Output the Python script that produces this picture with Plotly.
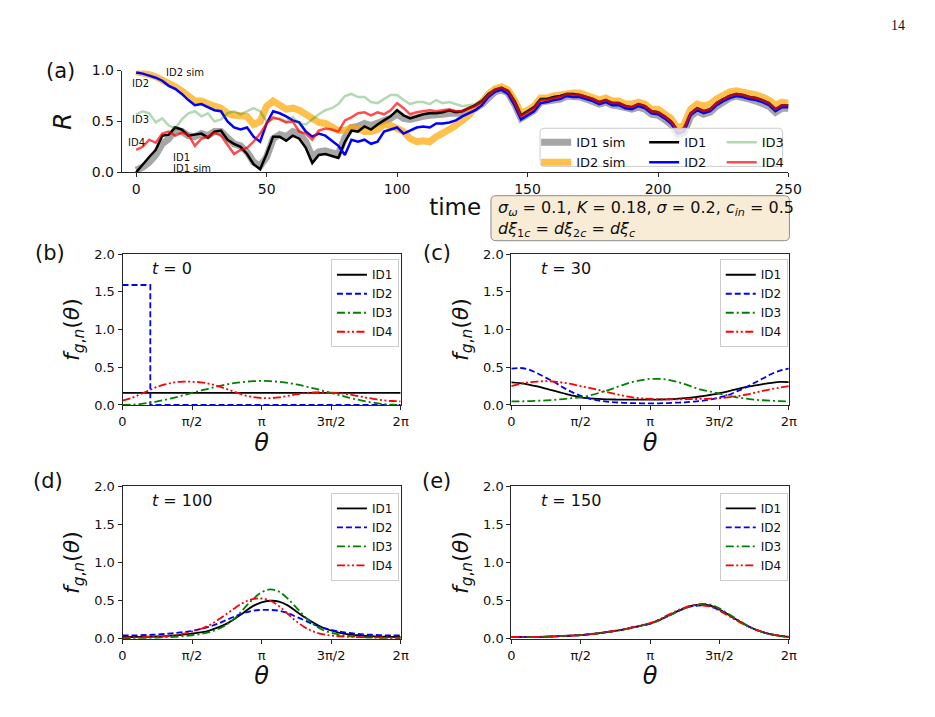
import math
import plotly.graph_objects as go

W, H = 935, 717

# ---------------- data: panel (a) ----------------
time = [i * 2.5 for i in range(101)]

R_ID1_sim = [0.02, 0.05, 0.10, 0.17, 0.28, 0.33, 0.42, 0.40, 0.36, 0.35,
             0.38, 0.36, 0.40, 0.40, 0.34, 0.28, 0.26, 0.20, 0.10, 0.06,
             0.15, 0.33, 0.37, 0.35, 0.40, 0.38, 0.30, 0.15, 0.20, 0.21,
             0.19, 0.18, 0.34, 0.44, 0.45, 0.48, 0.46, 0.48, 0.50, 0.53,
             0.57, 0.53, 0.52, 0.54, 0.55, 0.56, 0.56, 0.57, 0.58, 0.58,
             0.58, 0.61, 0.63, 0.67, 0.74, 0.79, 0.81, 0.78, 0.67, 0.53,
             0.57, 0.61, 0.69, 0.70, 0.71, 0.72, 0.75, 0.75, 0.74, 0.72,
             0.70, 0.67, 0.69, 0.66, 0.65, 0.63, 0.62, 0.64, 0.62, 0.57,
             0.56, 0.52, 0.47, 0.37, 0.39, 0.55, 0.60, 0.57, 0.59, 0.65,
             0.70, 0.73, 0.75, 0.74, 0.72, 0.70, 0.68, 0.65, 0.59, 0.63,
             0.63]
R_ID2_sim = [0.99, 0.98, 0.96, 0.94, 0.91, 0.87, 0.84, 0.80, 0.74, 0.70,
             0.70, 0.67, 0.65, 0.63, 0.58, 0.56, 0.55, 0.55, 0.47, 0.50,
             0.65, 0.70, 0.66, 0.62, 0.63, 0.61, 0.57, 0.52, 0.49, 0.48,
             0.45, 0.41, 0.41, 0.44, 0.43, 0.40, 0.40, 0.42, 0.47, 0.46,
             0.43, 0.40, 0.33, 0.30, 0.31, 0.30, 0.35, 0.38, 0.42, 0.46,
             0.50, 0.56, 0.64, 0.69, 0.77, 0.82, 0.84, 0.81, 0.71, 0.58,
             0.61, 0.65, 0.73, 0.73, 0.75, 0.76, 0.78, 0.78, 0.78, 0.76,
             0.74, 0.71, 0.73, 0.70, 0.70, 0.67, 0.67, 0.69, 0.67, 0.62,
             0.62, 0.57, 0.53, 0.43, 0.47, 0.62, 0.67, 0.65, 0.67, 0.72,
             0.76, 0.79, 0.80, 0.79, 0.78, 0.76, 0.74, 0.71, 0.66, 0.69,
             0.68]
R_ID1 = [0.00, 0.08, 0.15, 0.22, 0.36, 0.37, 0.44, 0.42, 0.36, 0.37,
         0.38, 0.34, 0.40, 0.41, 0.32, 0.28, 0.25, 0.18, 0.08, 0.03,
         0.18, 0.35, 0.35, 0.31, 0.36, 0.33, 0.24, 0.09, 0.17, 0.18,
         0.16, 0.14, 0.30, 0.41, 0.40, 0.45, 0.42, 0.47, 0.51, 0.55,
         0.61, 0.56, 0.53, 0.55, 0.57, 0.58, 0.58, 0.59, 0.61, 0.59,
         0.60, 0.63, 0.66, 0.70, 0.77, 0.81, 0.83, 0.80, 0.70, 0.56,
         0.60, 0.64, 0.72, 0.72, 0.74, 0.75, 0.77, 0.77, 0.76, 0.74,
         0.72, 0.69, 0.71, 0.68, 0.68, 0.65, 0.64, 0.67, 0.65, 0.60,
         0.59, 0.55, 0.50, 0.41, 0.43, 0.58, 0.63, 0.60, 0.62, 0.68,
         0.72, 0.75, 0.77, 0.76, 0.74, 0.73, 0.71, 0.68, 0.62, 0.66,
         0.66]
R_ID2 = [0.98, 0.97, 0.95, 0.93, 0.90, 0.85, 0.82, 0.77, 0.71, 0.66,
         0.67, 0.64, 0.61, 0.60, 0.50, 0.44, 0.42, 0.44, 0.35, 0.30,
         0.48, 0.60, 0.58, 0.55, 0.51, 0.49, 0.40, 0.35, 0.38, 0.36,
         0.31, 0.26, 0.17, 0.32, 0.30, 0.32, 0.28, 0.30, 0.40, 0.42,
         0.44, 0.38, 0.41, 0.44, 0.45, 0.44, 0.48, 0.48, 0.49, 0.51,
         0.55, 0.58, 0.61, 0.66, 0.74, 0.79, 0.81, 0.77, 0.66, 0.52,
         0.56, 0.60, 0.68, 0.69, 0.71, 0.72, 0.75, 0.74, 0.74, 0.72,
         0.70, 0.67, 0.69, 0.66, 0.66, 0.63, 0.62, 0.65, 0.63, 0.58,
         0.57, 0.53, 0.48, 0.38, 0.40, 0.56, 0.61, 0.58, 0.60, 0.66,
         0.70, 0.73, 0.75, 0.74, 0.72, 0.71, 0.69, 0.66, 0.60, 0.64,
         0.64]
R_ID3 = [0.57, 0.60, 0.58, 0.49, 0.53, 0.46, 0.43, 0.52, 0.58, 0.60,
         0.55, 0.58, 0.50, 0.52, 0.58, 0.60, 0.57, 0.60, 0.63, 0.60,
         0.50, 0.52, 0.53, 0.50, 0.54, 0.48, 0.47, 0.52, 0.57, 0.61,
         0.63, 0.67, 0.75, 0.77, 0.74, 0.74, 0.69, 0.68, 0.72, 0.76,
         0.76, 0.71, 0.67, 0.69, 0.69, 0.67, 0.71, 0.68, 0.69, 0.67,
         0.65, 0.66, 0.67, 0.71, 0.77, 0.82, 0.83, 0.80, 0.70, 0.56,
         0.60, 0.64, 0.72, 0.72, 0.73, 0.74, 0.77, 0.77, 0.76, 0.74,
         0.72, 0.69, 0.71, 0.68, 0.68, 0.65, 0.64, 0.67, 0.65, 0.60,
         0.59, 0.55, 0.50, 0.41, 0.43, 0.58, 0.63, 0.60, 0.62, 0.68,
         0.72, 0.75, 0.77, 0.76, 0.74, 0.73, 0.71, 0.68, 0.62, 0.66,
         0.66]
R_ID4 = [0.22, 0.25, 0.32, 0.29, 0.38, 0.40, 0.36, 0.39, 0.37, 0.26,
         0.33, 0.35, 0.39, 0.36, 0.27, 0.18, 0.22, 0.24, 0.30, 0.38,
         0.48, 0.54, 0.52, 0.49, 0.50, 0.40, 0.38, 0.32, 0.41, 0.43,
         0.42, 0.40, 0.51, 0.54, 0.58, 0.59, 0.56, 0.59, 0.57, 0.61,
         0.68, 0.63, 0.57, 0.59, 0.60, 0.61, 0.60, 0.61, 0.62, 0.60,
         0.60, 0.63, 0.65, 0.69, 0.76, 0.81, 0.83, 0.80, 0.69, 0.55,
         0.59, 0.63, 0.71, 0.71, 0.73, 0.74, 0.77, 0.76, 0.76, 0.74,
         0.72, 0.69, 0.71, 0.68, 0.68, 0.65, 0.64, 0.67, 0.65, 0.60,
         0.59, 0.55, 0.50, 0.41, 0.43, 0.58, 0.63, 0.60, 0.62, 0.68,
         0.72, 0.75, 0.77, 0.76, 0.74, 0.73, 0.71, 0.68, 0.62, 0.66,
         0.66]

# ---------------- data: panels (b)-(e) ----------------
theta = [k * math.pi / 16 for k in range(33)]
theta_step = [0.0, 0.2 * math.pi, 0.2 * math.pi, 2 * math.pi]

# (b) t = 0
fb_ID1 = [0.159] * 33
fb_ID2 = [1.59, 1.59, 0.0, 0.0]
fb_ID3 = [0.000, 0.003, 0.012, 0.027, 0.047, 0.071, 0.098, 0.128, 0.159, 0.190,
          0.220, 0.247, 0.272, 0.292, 0.306, 0.315, 0.318, 0.315, 0.306, 0.292,
          0.272, 0.247, 0.220, 0.190, 0.159, 0.128, 0.098, 0.071, 0.047, 0.027,
          0.012, 0.003, 0.000]
fb_ID4 = [0.056, 0.090, 0.140, 0.190, 0.240, 0.275, 0.300, 0.310, 0.307, 0.300,
          0.280, 0.250, 0.210, 0.170, 0.130, 0.105, 0.092, 0.090, 0.100, 0.120,
          0.140, 0.158, 0.166, 0.168, 0.164, 0.155, 0.140, 0.120, 0.098, 0.078,
          0.062, 0.052, 0.048]
# (c) t = 30
fc_ID1 = [0.300, 0.290, 0.270, 0.245, 0.215, 0.185, 0.155, 0.125, 0.100, 0.088,
          0.080, 0.075, 0.072, 0.070, 0.070, 0.070, 0.070, 0.072, 0.075, 0.080,
          0.090, 0.100, 0.115, 0.135, 0.155, 0.180, 0.210, 0.235, 0.255, 0.275,
          0.292, 0.305, 0.302]
fc_ID2 = [0.480, 0.490, 0.470, 0.420, 0.360, 0.300, 0.230, 0.170, 0.120, 0.085,
          0.060, 0.045, 0.035, 0.028, 0.024, 0.022, 0.022, 0.022, 0.025, 0.030,
          0.035, 0.045, 0.055, 0.075, 0.100, 0.130, 0.180, 0.230, 0.290, 0.350,
          0.410, 0.455, 0.480]
fc_ID3 = [0.048, 0.048, 0.050, 0.055, 0.060, 0.068, 0.078, 0.090, 0.100, 0.125,
          0.155, 0.190, 0.230, 0.270, 0.305, 0.330, 0.345, 0.345, 0.335, 0.310,
          0.275, 0.235, 0.200, 0.175, 0.150, 0.125, 0.100, 0.085, 0.070, 0.062,
          0.055, 0.050, 0.048]
fc_ID4 = [0.250, 0.280, 0.300, 0.310, 0.315, 0.310, 0.295, 0.275, 0.250, 0.225,
          0.200, 0.170, 0.145, 0.120, 0.100, 0.088, 0.080, 0.076, 0.075, 0.075,
          0.076, 0.078, 0.080, 0.083, 0.088, 0.100, 0.115, 0.135, 0.160, 0.185,
          0.210, 0.230, 0.250]
# (d) t = 100
fd_ID1 = [0.025, 0.025, 0.026, 0.028, 0.032, 0.037, 0.045, 0.055, 0.068, 0.085,
          0.110, 0.150, 0.200, 0.270, 0.350, 0.430, 0.480, 0.500, 0.490, 0.440,
          0.360, 0.280, 0.210, 0.150, 0.110, 0.080, 0.060, 0.048, 0.038, 0.032,
          0.028, 0.026, 0.025]
fd_ID2 = [0.045, 0.045, 0.048, 0.052, 0.058, 0.066, 0.077, 0.090, 0.105, 0.130,
          0.160, 0.200, 0.250, 0.300, 0.340, 0.370, 0.380, 0.380, 0.370, 0.340,
          0.290, 0.240, 0.190, 0.150, 0.120, 0.095, 0.078, 0.066, 0.058, 0.052,
          0.048, 0.046, 0.045]
fd_ID3 = [0.012, 0.012, 0.013, 0.015, 0.018, 0.022, 0.028, 0.036, 0.048, 0.065,
          0.090, 0.130, 0.190, 0.280, 0.400, 0.520, 0.610, 0.650, 0.620, 0.530,
          0.410, 0.290, 0.190, 0.120, 0.080, 0.055, 0.038, 0.028, 0.021, 0.017,
          0.014, 0.013, 0.012]
fd_ID4 = [0.018, 0.019, 0.021, 0.025, 0.030, 0.038, 0.050, 0.068, 0.095, 0.130,
          0.180, 0.250, 0.330, 0.410, 0.480, 0.520, 0.530, 0.500, 0.430, 0.330,
          0.230, 0.150, 0.095, 0.062, 0.045, 0.035, 0.028, 0.024, 0.021, 0.020,
          0.019, 0.018, 0.018]
# (e) t = 150
fe_ID1 = [0.027, 0.025, 0.024, 0.025, 0.028, 0.032, 0.038, 0.044, 0.050, 0.060,
          0.072, 0.088, 0.105, 0.125, 0.150, 0.175, 0.200, 0.245, 0.300, 0.355,
          0.405, 0.440, 0.450, 0.435, 0.385, 0.320, 0.250, 0.185, 0.130, 0.090,
          0.060, 0.040, 0.027]
fe_ID2 = [0.027, 0.025, 0.024, 0.025, 0.028, 0.032, 0.038, 0.044, 0.050, 0.060,
          0.072, 0.088, 0.105, 0.125, 0.150, 0.175, 0.200, 0.243, 0.295, 0.350,
          0.400, 0.430, 0.440, 0.425, 0.380, 0.318, 0.250, 0.185, 0.130, 0.090,
          0.060, 0.040, 0.027]
fe_ID3 = [0.027, 0.025, 0.024, 0.025, 0.028, 0.032, 0.038, 0.044, 0.050, 0.060,
          0.072, 0.088, 0.105, 0.125, 0.148, 0.172, 0.198, 0.240, 0.295, 0.350,
          0.400, 0.440, 0.460, 0.450, 0.400, 0.330, 0.260, 0.190, 0.132, 0.090,
          0.060, 0.040, 0.027]
fe_ID4 = [0.027, 0.025, 0.024, 0.025, 0.028, 0.032, 0.038, 0.044, 0.051, 0.062,
          0.074, 0.090, 0.108, 0.128, 0.153, 0.180, 0.207, 0.250, 0.310, 0.365,
          0.410, 0.440, 0.440, 0.420, 0.370, 0.305, 0.240, 0.180, 0.128, 0.088,
          0.059, 0.040, 0.027]

# ---------------- helpers ----------------
def PX(x):
    return x / W

def PY(y):
    return 1 - y / H

def rounded_rect(x0, y0, x1, y1, r):
    # pixel coordinates -> paper path
    pts = []
    pts.append(f"M {PX(x0 + r)} {PY(y0)}")
    pts.append(f"L {PX(x1 - r)} {PY(y0)}")
    pts.append(f"Q {PX(x1)} {PY(y0)} {PX(x1)} {PY(y0 + r)}")
    pts.append(f"L {PX(x1)} {PY(y1 - r)}")
    pts.append(f"Q {PX(x1)} {PY(y1)} {PX(x1 - r)} {PY(y1)}")
    pts.append(f"L {PX(x0 + r)} {PY(y1)}")
    pts.append(f"Q {PX(x0)} {PY(y1)} {PX(x0)} {PY(y1 - r)}")
    pts.append(f"L {PX(x0)} {PY(y0 + r)}")
    pts.append(f"Q {PX(x0)} {PY(y0)} {PX(x0 + r)} {PY(y0)}")
    pts.append("Z")
    return " ".join(pts)

FONT = "DejaVu Sans"
AX = "#262626"

fig = go.Figure()

# ---------------- panel (a) traces ----------------
a_series = [
    ("ID1 sim", R_ID1_sim, "rgba(128,128,128,0.7)", 7, "legend"),
    ("ID2 sim", R_ID2_sim, "rgba(255,165,0,0.7)", 7, "legend"),
    ("ID1", R_ID1, "black", 2.5, "legend2"),
    ("ID2", R_ID2, "blue", 2.5, "legend2"),
    ("ID3", R_ID3, "rgba(0,128,0,0.3)", 2.5, "legend3"),
    ("ID4", R_ID4, "rgba(255,0,0,0.7)", 2.5, "legend3"),
]
for name, vals, col, wd, lg in a_series:
    fig.add_trace(go.Scatter(x=time, y=vals, mode="lines", name=name,
                             line=dict(color=col, width=wd),
                             xaxis="x", yaxis="y", legend=lg))

# ---------------- panels (b)-(e) traces ----------------
styles = {
    "ID1": dict(color="black", width=1.8, dash="solid"),
    "ID2": dict(color="blue", width=1.8, dash="6px,3px"),
    "ID3": dict(color="green", width=1.8, dash="8px,3px,2px,3px"),
    "ID4": dict(color="red", width=1.8, dash="8px,2.5px,2px,2.5px,2px,2.5px"),
}
panels = [
    ("x2", "y2", "legend4", [(theta, fb_ID1), (theta_step, fb_ID2), (theta, fb_ID3), (theta, fb_ID4)]),
    ("x3", "y3", "legend5", [(theta, fc_ID1), (theta, fc_ID2), (theta, fc_ID3), (theta, fc_ID4)]),
    ("x4", "y4", "legend6", [(theta, fd_ID1), (theta, fd_ID2), (theta, fd_ID3), (theta, fd_ID4)]),
    ("x5", "y5", "legend7", [(theta, fe_ID1), (theta, fe_ID2), (theta, fe_ID3), (theta, fe_ID4)]),
]
for xa, ya, lg, curves in panels:
    for i, (xs, ys) in enumerate(curves):
        nm = f"ID{i + 1}"
        shape = "linear" if xs is theta_step else "spline"
        fig.add_trace(go.Scatter(x=xs, y=ys, mode="lines", name=nm,
                                 line=dict(shape=shape, **styles[nm]),
                                 xaxis=xa, yaxis=ya, legend=lg))

# ---------------- axes ----------------
common = dict(showline=True, linecolor=AX, linewidth=1, ticks="outside", ticklen=4,
              tickcolor=AX, showgrid=False, zeroline=False,
              tickfont=dict(family=FONT, size=13, color="#111"))

lay = dict(
    width=W, height=H, autosize=False,
    margin=dict(l=0, r=0, t=0, b=0),
    paper_bgcolor="white", plot_bgcolor="white",
    font=dict(family=FONT, color="#111"),
)
lay["xaxis"] = dict(common, domain=[PX(120), PX(799)], range=[-5.5, 250], anchor="y",
                    tickvals=[0, 50, 100, 150, 200, 250], tickfont=dict(family=FONT, size=14, color="#111"),
                    title=dict(text="time", font=dict(family=FONT, size=23, color="#111"), standoff=2))
lay["yaxis"] = dict(common, domain=[PY(168), PY(64)], range=[0, 1.0], anchor="x",
                    tickvals=[0, 0.5, 1.0], ticktext=["0.0", "0.5", "1.0"],
                    tickfont=dict(family=FONT, size=14, color="#111"),
                    title=dict(text="<i>R</i>", font=dict(family=FONT, size=25, color="#111"), standoff=12))

pi_vals = [0, math.pi / 2, math.pi, 3 * math.pi / 2, 2 * math.pi]
pi_text = ["0", "π/2", "π", "3π/2", "2π"]
dom_x = {"2": [PX(120.7), PX(404)], "3": [PX(516.7), PX(799.3)],
         "4": [PX(120.7), PX(404)], "5": [PX(516.7), PX(799.3)]}
dom_y = {"2": [PY(406), PY(251.7)], "3": [PY(406), PY(251.7)],
         "4": [PY(645.3), PY(489.3)], "5": [PY(645.3), PY(489.3)]}
for k in ["2", "3", "4", "5"]:
    lay["xaxis" + k] = dict(common, domain=dom_x[k], range=[0, 2 * math.pi], anchor="y" + k,
                            mirror=True, tickvals=pi_vals, ticktext=pi_text,
                            title=dict(text="<i>θ</i>", font=dict(family=FONT, size=24, color="#111"), standoff=4))
    lay["yaxis" + k] = dict(common, domain=dom_y[k], range=[0, 2.0], anchor="x" + k,
                            mirror=True, tickvals=[0, 0.5, 1.0, 1.5, 2.0],
                            ticktext=["0.0", "0.5", "1.0", "1.5", "2.0"],
                            title=dict(text="<i>f</i><sub><i>g</i>,<i>n</i></sub>(<i>θ</i>)",
                                       font=dict(family=FONT, size=22, color="#111"), standoff=8))

# ---------------- legends ----------------
def leg(xpx, ypx, size, box=False):
    d = dict(x=PX(xpx), y=PY(ypx), xanchor="left", yanchor="top", orientation="v",
             font=dict(family=FONT, size=size, color="#111"),
             bgcolor="rgba(0,0,0,0)", borderwidth=0, tracegroupgap=0,
             itemwidth=30)
    if box:
        d.update(bgcolor="rgba(255,255,255,0.85)", bordercolor="#cccccc", borderwidth=1)
    return d

lay["legend"] = leg(542, 122, 13)
lay["legend2"] = leg(652, 122, 13)
lay["legend3"] = leg(731, 122, 13)
lay["legend4"] = leg(333, 257, 12, True)
lay["legend5"] = leg(729, 257, 12, True)
lay["legend6"] = leg(333, 496, 12, True)
lay["legend7"] = leg(729, 496, 12, True)

fig.update_layout(**lay)

# ---------------- shapes ----------------
fig.add_shape(type="path", xref="paper", yref="paper", layer="above",
              path=rounded_rect(546, 123, 793, 162, 4),
              fillcolor="rgba(255,255,255,0.8)", line=dict(color="#cccccc", width=1))
fig.add_shape(type="path", xref="paper", yref="paper", layer="above",
              path=rounded_rect(496, 192, 800, 238, 5),
              fillcolor="#f9ecd6", line=dict(color="#8c8c8c", width=1))

# ---------------- annotations ----------------
ann = []
def A(text, x, y, size, xref="paper", yref="paper", xanchor="center", yanchor="middle", family=FONT):
    ann.append(dict(text=text, x=x, y=y, xref=xref, yref=yref, showarrow=False,
                    xanchor=xanchor, yanchor=yanchor,
                    font=dict(family=family, size=size, color="#111")))

A("14", PX(911), PY(18), 14, family="Liberation Serif")
A("(a)", PX(58), PY(64), 21)
A("(b)", PX(47), PY(251), 21)
A("(c)", PX(441), PY(251), 21)
A("(d)", PX(45), PY(484), 21)
A("(e)", PX(440), PY(484), 21)
A("<i>t</i> = 0", PX(149), PY(266), 16, xanchor="left")
A("<i>t</i> = 30", PX(545), PY(266), 16, xanchor="left")
A("<i>t</i> = 100", PX(149), PY(504), 16, xanchor="left")
A("<i>t</i> = 150", PX(545), PY(504), 16, xanchor="left")
A("<i>σ</i><sub><i>ω</i></sub> = 0.1, <i>K</i> = 0.18, <i>σ</i> = 0.2, <i>c</i><sub><i>in</i></sub> = 0.5",
  PX(501), PY(205), 16, xanchor="left")
A("<i>dξ</i><sub>1<i>c</i></sub> = <i>dξ</i><sub>2<i>c</i></sub> = <i>dξ</i><sub><i>c</i></sub>",
  PX(501), PY(227), 16, xanchor="left")
# in-panel labels of (a), placed in data coordinates
for txt, tx, ty in [("ID2 sim", 10.5, 0.98), ("ID2", -2.3, 0.875), ("ID3", -2.3, 0.52),
                    ("ID4", -3.8, 0.29), ("ID1", 13.2, 0.15), ("ID1 sim", 13.2, 0.04)]:
    A(txt, tx, ty, 10, xref="x", yref="y", xanchor="left")

fig.update_layout(annotations=ann)
fig.write_html("out.html")
